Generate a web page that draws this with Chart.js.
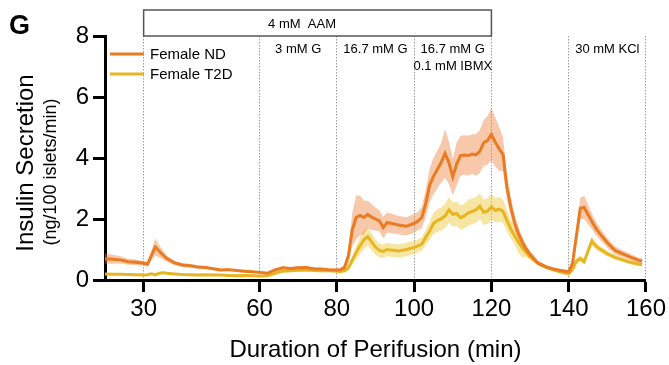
<!DOCTYPE html>
<html>
<head>
<meta charset="utf-8">
<script src="https://cdn.jsdelivr.net/npm/chart.js@4.4.1/dist/chart.umd.min.js"></script>
<style>
  html, body { margin: 0; padding: 0; background: #fff; }
  canvas { display: block; }
</style>
</head>
<body>
<canvas id="perifusionChart" width="669" height="365"></canvas>
<script>
const FONT = '"Liberation Sans", Arial, Helvetica, sans-serif';

// sampling times (min)
const minutes = [
  20, 22, 24, 26, 28,
  30, 31, 32, 33, 34, 35, 36,
  38, 40, 42, 44, 46, 48, 50, 52, 54, 56, 58, 60, 62, 64, 66, 68, 70, 72, 74, 76, 78, 80,
  81, 82, 83, 84, 85, 86, 87, 88, 89, 90, 91, 92, 93, 94,
  96, 98,
  100, 101, 102, 103, 104, 105, 106, 107, 108, 109, 110, 111, 112, 113, 114, 115, 116, 117, 118, 119,
  120, 121, 122, 123, 124, 125, 126, 127, 128, 129, 130,
  132, 134, 136, 138, 140,
  141, 142, 143, 144, 145, 146, 147, 148,
  150, 152, 154, 156, 158, 159
];

// Female ND mean and SEM (ng/100 islets/min)
const ndMean = [
  0.70, 0.68, 0.66, 0.60, 0.58,
  0.55, 0.52, 0.80, 1.08, 0.95, 0.82, 0.70,
  0.56, 0.49, 0.47, 0.43, 0.41, 0.37, 0.33, 0.34, 0.31, 0.29, 0.27, 0.25, 0.22, 0.33, 0.40, 0.38, 0.40, 0.41, 0.37, 0.36, 0.34, 0.33,
  0.34, 0.42, 0.80, 1.65, 2.05, 2.12, 2.05, 2.15, 2.06, 2.00, 1.94, 1.72, 1.88, 1.86,
  1.80, 1.76,
  1.86, 1.93, 2.05, 2.50, 3.10, 3.40, 3.62, 3.85, 4.15, 3.85, 3.38, 3.80, 4.08, 4.10, 4.08, 4.13, 4.10, 4.22, 4.50, 4.58,
  4.78, 4.52, 4.30, 4.12, 3.05, 2.40, 1.88, 1.52, 1.24, 1.02, 0.84,
  0.56, 0.44, 0.36, 0.31, 0.27,
  0.55, 1.45, 2.35, 2.38, 2.15, 1.92, 1.70, 1.53,
  1.22, 0.97, 0.86, 0.75, 0.65, 0.62
];
const ndSem = [
  0.17, 0.15, 0.12, 0.10, 0.09,
  0.08, 0.08, 0.15, 0.28, 0.20, 0.15, 0.10,
  0.07, 0.06, 0.06, 0.05, 0.05, 0.05, 0.04, 0.04, 0.04, 0.04, 0.04, 0.04, 0.04, 0.05, 0.05, 0.05, 0.05, 0.05, 0.04, 0.04, 0.04, 0.04,
  0.05, 0.08, 0.25, 0.55, 0.72, 0.65, 0.55, 0.45, 0.42, 0.38, 0.35, 0.35, 0.33, 0.32,
  0.30, 0.30,
  0.30, 0.30, 0.35, 0.45, 0.55, 0.60, 0.62, 0.65, 0.80, 0.70, 0.60, 0.70, 0.65, 0.65, 0.65, 0.65, 0.68, 0.70, 0.75, 0.80,
  0.85, 0.80, 0.72, 0.55, 0.42, 0.32, 0.25, 0.20, 0.16, 0.13, 0.11,
  0.08, 0.06, 0.05, 0.04, 0.04,
  0.08, 0.22, 0.35, 0.38, 0.32, 0.26, 0.22, 0.20,
  0.16, 0.13, 0.11, 0.10, 0.09, 0.09
];

// Female T2D mean and SEM
const t2dMean = [
  0.20, 0.19, 0.19, 0.18, 0.17,
  0.16, 0.17, 0.20, 0.17, 0.22, 0.24, 0.22,
  0.20, 0.18, 0.17, 0.16, 0.17, 0.16, 0.16, 0.15, 0.14, 0.15, 0.14, 0.13, 0.14, 0.22, 0.29, 0.30, 0.32, 0.33, 0.31, 0.30, 0.30, 0.29,
  0.28, 0.30, 0.40, 0.65, 0.90, 1.12, 1.32, 1.42, 1.25, 1.08, 0.97, 0.94, 1.00, 0.98,
  0.95, 1.00,
  1.07, 1.12, 1.18, 1.40, 1.60, 1.85, 1.95, 2.00, 2.10, 2.30, 2.15, 2.18, 2.04, 2.10, 2.20, 2.25, 2.30, 2.42, 2.22, 2.26,
  2.40, 2.28, 2.32, 2.25, 1.95, 1.68, 1.44, 1.24, 1.05, 0.90, 0.76,
  0.55, 0.42, 0.33, 0.26, 0.20,
  0.35, 0.62, 0.70, 0.60, 0.95, 1.28, 1.12, 1.02,
  0.86, 0.74, 0.66, 0.58, 0.52, 0.50
];
const t2dSem = [
  0.03, 0.03, 0.03, 0.03, 0.03,
  0.03, 0.03, 0.03, 0.03, 0.03, 0.03, 0.03,
  0.03, 0.03, 0.03, 0.03, 0.03, 0.03, 0.03, 0.03, 0.03, 0.03, 0.03, 0.03, 0.03, 0.03, 0.03, 0.03, 0.03, 0.03, 0.03, 0.03, 0.03, 0.03,
  0.03, 0.04, 0.08, 0.15, 0.22, 0.28, 0.30, 0.30, 0.28, 0.25, 0.23, 0.22, 0.22, 0.22,
  0.22, 0.22,
  0.22, 0.22, 0.22, 0.25, 0.30, 0.35, 0.38, 0.38, 0.40, 0.42, 0.40, 0.40, 0.40, 0.40, 0.42, 0.42, 0.42, 0.42, 0.42, 0.42,
  0.42, 0.40, 0.40, 0.38, 0.35, 0.30, 0.28, 0.35, 0.30, 0.15, 0.10,
  0.06, 0.05, 0.04, 0.04, 0.03,
  0.05, 0.10, 0.10, 0.10, 0.12, 0.15, 0.12, 0.10,
  0.09, 0.08, 0.07, 0.07, 0.06, 0.06
];

const xTicks = [30, 60, 80, 100, 120, 140, 160];
const yTicks = [0, 2, 4, 6, 8];

const seriesNames = ['Female ND', 'Female T2D'];
const lineColors = ['#e97b22', '#e7b51f'];
const bandColors = ['rgba(237, 125, 49, 0.42)', 'rgba(236, 192, 36, 0.42)'];

// stimulus labels above the plot (x in minutes)
const stimulusLabels = [
  { text: '3 mM G', at: 70, row: 0 },
  { text: '16.7 mM G', at: 90, row: 0 },
  { text: '16.7 mM G', at: 110, row: 0 },
  { text: '0.1 mM IBMX', at: 110, row: 1 },
  { text: '30 mM KCl', at: 150, row: 0 }
];
const aamBox = { text: '4 mM  AAM', from: 30, to: 120, textAt: 71 };

function points(values) {
  return minutes.map((m, i) => ({ x: m, y: values[i] }));
}

function bandEdge(mean, sem, sign) {
  return minutes.map((m, i) => ({ x: m, y: mean[i] + sign * sem[i] }));
}

function lineDataset(label, values, color, order) {
  return {
    label: label,
    data: points(values),
    borderColor: color,
    borderWidth: 3,
    pointRadius: 0,
    fill: false,
    tension: 0,
    order: order
  };
}

function bandDatasets(mean, sem, color, order) {
  const edge = {
    borderColor: 'rgba(0,0,0,0)',
    borderWidth: 1,
    pointRadius: 0,
    backgroundColor: color,
    tension: 0,
    order: order
  };
  return [
    Object.assign({}, edge, { label: 'upper', data: bandEdge(mean, sem, 1), fill: '+1' }),
    Object.assign({}, edge, { label: 'lower', data: bandEdge(mean, sem, -1), fill: false })
  ];
}

const annotations = {
  id: 'annotations',
  afterDraw(chart) {
    const ctx = chart.ctx;
    const x = chart.scales.x;
    ctx.save();

    // panel letter
    ctx.fillStyle = '#000';
    ctx.font = 'bold 27px ' + FONT;
    ctx.textAlign = 'left';
    ctx.textBaseline = 'alphabetic';
    ctx.fillText('G', 9, 34);

    // treatment box
    const bx1 = x.getPixelForValue(aamBox.from);
    const bx2 = x.getPixelForValue(aamBox.to);
    ctx.strokeStyle = '#555';
    ctx.lineWidth = 1.5;
    ctx.strokeRect(bx1, 10, bx2 - bx1, 26);
    ctx.font = '13px ' + FONT;
    ctx.textAlign = 'center';
    ctx.fillText(aamBox.text, x.getPixelForValue(aamBox.textAt), 28);

    // stimulus labels
    stimulusLabels.forEach(l => {
      ctx.fillText(l.text, x.getPixelForValue(l.at), 53 + l.row * 17);
    });

    // legend
    ctx.font = '15px ' + FONT;
    ctx.textAlign = 'left';
    ctx.textBaseline = 'middle';
    seriesNames.forEach((name, i) => {
      const ly = 54 + i * 20;
      ctx.strokeStyle = lineColors[i];
      ctx.lineWidth = 3;
      ctx.beginPath();
      ctx.moveTo(110, ly);
      ctx.lineTo(144, ly);
      ctx.stroke();
      ctx.fillText(name, 150, ly + 1);
    });

    // y axis title, two lines
    ctx.textAlign = 'center';
    ctx.textBaseline = 'middle';
    ctx.translate(26, 163);
    ctx.rotate(-Math.PI / 2);
    ctx.font = '24px ' + FONT;
    ctx.fillText('Insulin Secretion', 0, 0);
    ctx.font = '18px ' + FONT;
    ctx.fillText('(ng/100 islets/min)', -9, 25);
    ctx.restore();
  }
};

const ctx = document.getElementById('perifusionChart').getContext('2d');
const chart = new Chart(ctx, {
  type: 'line',
  data: {
    datasets: [
      lineDataset(seriesNames[0], ndMean, lineColors[0], 1),
      ...bandDatasets(ndMean, ndSem, bandColors[0], 2),
      lineDataset(seriesNames[1], t2dMean, lineColors[1], 3),
      ...bandDatasets(t2dMean, t2dSem, bandColors[1], 4)
    ]
  },
  options: {
    responsive: false,
    animation: false,
    devicePixelRatio: 1,
    layout: { padding: { top: 36, right: 23, left: 0, bottom: 0 } },
    plugins: {
      legend: { display: false },
      tooltip: { enabled: false }
    },
    scales: {
      x: {
        type: 'linear',
        min: 20,
        max: 160,
        afterBuildTicks: s => { s.ticks = xTicks.map(v => ({ value: v })); },
        afterFit: s => { s.height = 85; },
        grid: {
          color: '#a0a0a0',
          lineWidth: 1,
          tickColor: '#000',
          tickWidth: 3,
          tickLength: 12
        },
        border: { color: '#000', width: 3, dash: [1.5, 1.5] },
        ticks: {
          color: '#000',
          font: { family: FONT, size: 24 },
          padding: 3,
          maxRotation: 0,
          autoSkip: false
        },
        title: {
          display: true,
          text: 'Duration of Perifusion (min)',
          color: '#000',
          font: { family: FONT, size: 24 },
          padding: { top: 0, bottom: 0 }
        }
      },
      y: {
        min: 0,
        max: 8,
        afterBuildTicks: s => { s.ticks = yTicks.map(v => ({ value: v })); },
        afterFit: s => { s.width = 105; },
        grid: {
          drawOnChartArea: false,
          tickColor: '#000',
          tickWidth: 3,
          tickLength: 12
        },
        border: { color: '#000', width: 3 },
        ticks: {
          color: '#000',
          font: { family: FONT, size: 24 },
          padding: 4
        }
      }
    }
  },
  plugins: [annotations]
});
</script>
</body>
</html>
